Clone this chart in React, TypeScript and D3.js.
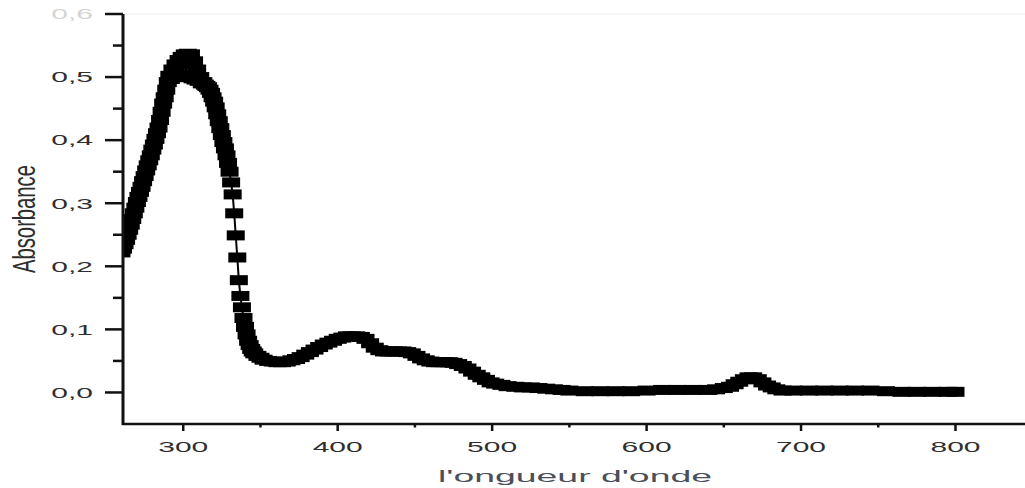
import React from "react";
import * as d3 from "d3";

// UV-Vis spectrum
const wavelength = [
  260, 261, 262, 263, 264, 265, 266, 267, 268, 269, 270, 271, 272, 273, 274, 275, 276, 277,
  278, 279, 280, 281, 282, 283, 284, 285, 286, 287, 288, 289,
  290, 291, 292, 293, 294, 295, 296, 297, 298, 299, 300, 301, 302, 303, 304, 305, 306, 307,
  308, 309, 310, 311, 312, 313, 314, 315, 316, 317, 318, 319, 320, 321, 322, 323, 324, 325,
  326, 327, 328, 329, 330, 331, 332, 333, 334, 335, 336, 337, 338, 339, 340, 341, 342, 343,
  344, 345, 346, 348, 350, 352, 355, 358, 361, 364, 367, 370, 373, 376, 379, 382, 385, 388,
  391, 394, 397, 400, 403, 406, 409, 412, 415, 418, 421, 424, 427, 430, 433, 436, 439, 442,
  445, 448, 451, 454, 457, 460, 463, 466, 469, 472, 475, 478, 481, 484, 487, 490, 493, 496,
  499, 502, 506, 510, 515, 520, 525, 530, 535, 540, 545, 550, 560, 570, 580, 590, 600, 610,
  620, 630, 640, 645, 650, 654, 657, 660, 663, 666, 669, 672, 675, 678, 681, 684, 688, 695,
  705, 715, 725, 735, 745, 755, 765, 775, 785, 795, 800,
];
const absorbance = [
  0.222, 0.228, 0.235, 0.242, 0.25, 0.258, 0.266, 0.275, 0.284, 0.293, 0.302, 0.31, 0.318, 0.326, 0.335, 0.343, 0.352, 0.36,
  0.368, 0.376, 0.385, 0.393, 0.402, 0.411, 0.42, 0.432, 0.445, 0.458, 0.468, 0.48,
  0.492, 0.502, 0.497, 0.512, 0.5, 0.52, 0.5, 0.527, 0.502, 0.532, 0.503, 0.536, 0.502, 0.537, 0.5, 0.536, 0.498, 0.525,
  0.496, 0.512, 0.494, 0.5, 0.49, 0.492, 0.488, 0.486, 0.484, 0.48, 0.475, 0.468, 0.461, 0.452, 0.441, 0.43, 0.419, 0.408,
  0.397, 0.387, 0.376, 0.364, 0.35, 0.333, 0.314, 0.284, 0.249, 0.214, 0.178, 0.153, 0.135, 0.118, 0.104, 0.092, 0.082, 0.075,
  0.069, 0.065, 0.062, 0.058, 0.055, 0.052, 0.05, 0.049, 0.048, 0.048, 0.049, 0.051, 0.053, 0.056, 0.06, 0.064, 0.068, 0.072,
  0.076, 0.079, 0.082, 0.085, 0.087, 0.089, 0.089, 0.089, 0.088, 0.085, 0.078, 0.071, 0.067, 0.065, 0.065, 0.065, 0.065, 0.065,
  0.064, 0.062, 0.058, 0.054, 0.051, 0.049, 0.048, 0.048, 0.048, 0.048, 0.047, 0.045, 0.042, 0.038, 0.033, 0.028, 0.024, 0.02,
  0.016, 0.014, 0.012, 0.01, 0.009, 0.008, 0.008, 0.007, 0.006, 0.005, 0.004, 0.003, 0.002, 0.002, 0.002, 0.002, 0.003, 0.004,
  0.004, 0.004, 0.004, 0.005, 0.007, 0.009, 0.013, 0.017, 0.021, 0.024, 0.024, 0.021, 0.016, 0.011, 0.008, 0.005, 0.003, 0.003,
  0.003, 0.003, 0.003, 0.003, 0.003, 0.002, 0.001, 0.001, 0.001, 0.001, 0.001,
];

const yMajorTicks = [0, 0.1, 0.2, 0.3, 0.4, 0.5, 0.6];
const yTickLabels = ["0,0", "0,1", "0,2", "0,3", "0,4", "0,5", "0,6"];
const yMinorTicks = [0.05, 0.15, 0.25, 0.35, 0.45, 0.55];
const xMajorTicks = [300, 400, 500, 600, 700, 800];
const xTickLabels = ["300", "400", "500", "600", "700", "800"];
const xMinorTicks = [350, 450, 550, 650, 750];
const xTitle = "l'ongueur d'onde";
const yTitle = "Absorbance";

const W = 1025;
const H = 488;
const left = 123;
const right = 1025;
const top = 14;
const bottom = 424;

export default function App() {
  const x = d3.scaleLinear().domain([261, 845]).range([left, right]);
  const y = d3.scaleLinear().domain([-0.05, 0.6]).range([bottom, top]);
  const pts = wavelength.map((w, i) => [w, absorbance[i]] as [number, number]);
  const line = d3
    .line<[number, number]>()
    .x((d) => x(d[0]))
    .y((d) => y(d[1]));
  const mw = 18;
  const mh = 10;
  const font = "'Liberation Sans', Arial, sans-serif";
  const labelColor = "#2e2e2e";

  return (
    <svg
      width={W}
      height={H}
      style={{ position: "absolute", left: 0, top: 0, background: "#fff" }}
    >
      <defs>
        <clipPath id="plot">
          <rect x={left} y={0} width={right - left} height={bottom} />
        </clipPath>
      </defs>
      <rect x={0} y={0} width={W} height={H} fill="#fff" />
      <line x1={left} x2={right} y1={top} y2={top} stroke="#efefef" strokeWidth={1} />

      <g clipPath="url(#plot)">
        <path d={line(pts) || ""} fill="none" stroke="#000" strokeWidth={2} />
        {pts.map((d, i) => (
          <rect
            key={i}
            x={x(d[0]) - mw / 2}
            y={y(d[1]) - mh / 2}
            width={mw}
            height={mh}
            fill="#000"
          />
        ))}
      </g>

      {/* Y axis */}
      <line x1={left} x2={left} y1={top} y2={bottom + 1} stroke="#111" strokeWidth={3} />
      {yMajorTicks.map((t) => (
        <line key={"ym" + t} x1={left - 18} x2={left} y1={y(t)} y2={y(t)} stroke="#111" strokeWidth={2.5} />
      ))}
      {yMinorTicks.map((t) => (
        <line key={"yn" + t} x1={left - 10} x2={left} y1={y(t)} y2={y(t)} stroke="#111" strokeWidth={2.5} />
      ))}
      {yMajorTicks.map((t, i) => (
        <text
          key={"yl" + t}
          transform={`translate(93,${y(t) + 5.3}) scale(2,1)`}
          textAnchor="end"
          fontFamily={font}
          fontSize={15}
          fill={i === yMajorTicks.length - 1 ? "#d4d4d4" : labelColor}
        >
          {yTickLabels[i]}
        </text>
      ))}

      {/* X axis */}
      <line x1={left - 1} x2={right} y1={bottom} y2={bottom} stroke="#111" strokeWidth={2.5} />
      {xMajorTicks.map((t) => (
        <line key={"xm" + t} x1={x(t)} x2={x(t)} y1={bottom} y2={bottom + 7} stroke="#111" strokeWidth={2.5} />
      ))}
      {xMinorTicks.map((t) => (
        <line key={"xn" + t} x1={x(t)} x2={x(t)} y1={bottom} y2={bottom + 3.5} stroke="#111" strokeWidth={2.5} />
      ))}
      {xMajorTicks.map((t, i) => (
        <text
          key={"xl" + t}
          transform={`translate(${x(t)},452) scale(2,1)`}
          textAnchor="middle"
          fontFamily={font}
          fontSize={15}
          fill={labelColor}
        >
          {xTickLabels[i]}
        </text>
      ))}

      {/* Titles */}
      <text
        x={575}
        y={482}
        textAnchor="middle"
        fontFamily={font}
        fontSize={17}
        fill="#4a4f5a"
        textLength={274}
        lengthAdjust="spacingAndGlyphs"
      >
        {xTitle}
      </text>
      <text
        transform="translate(35,219) scale(2,1) rotate(-90)"
        textAnchor="middle"
        fontFamily={font}
        fontSize={16}
        fill="#2e2e2e"
        textLength={108}
        lengthAdjust="spacingAndGlyphs"
      >
        {yTitle}
      </text>
    </svg>
  );
}
